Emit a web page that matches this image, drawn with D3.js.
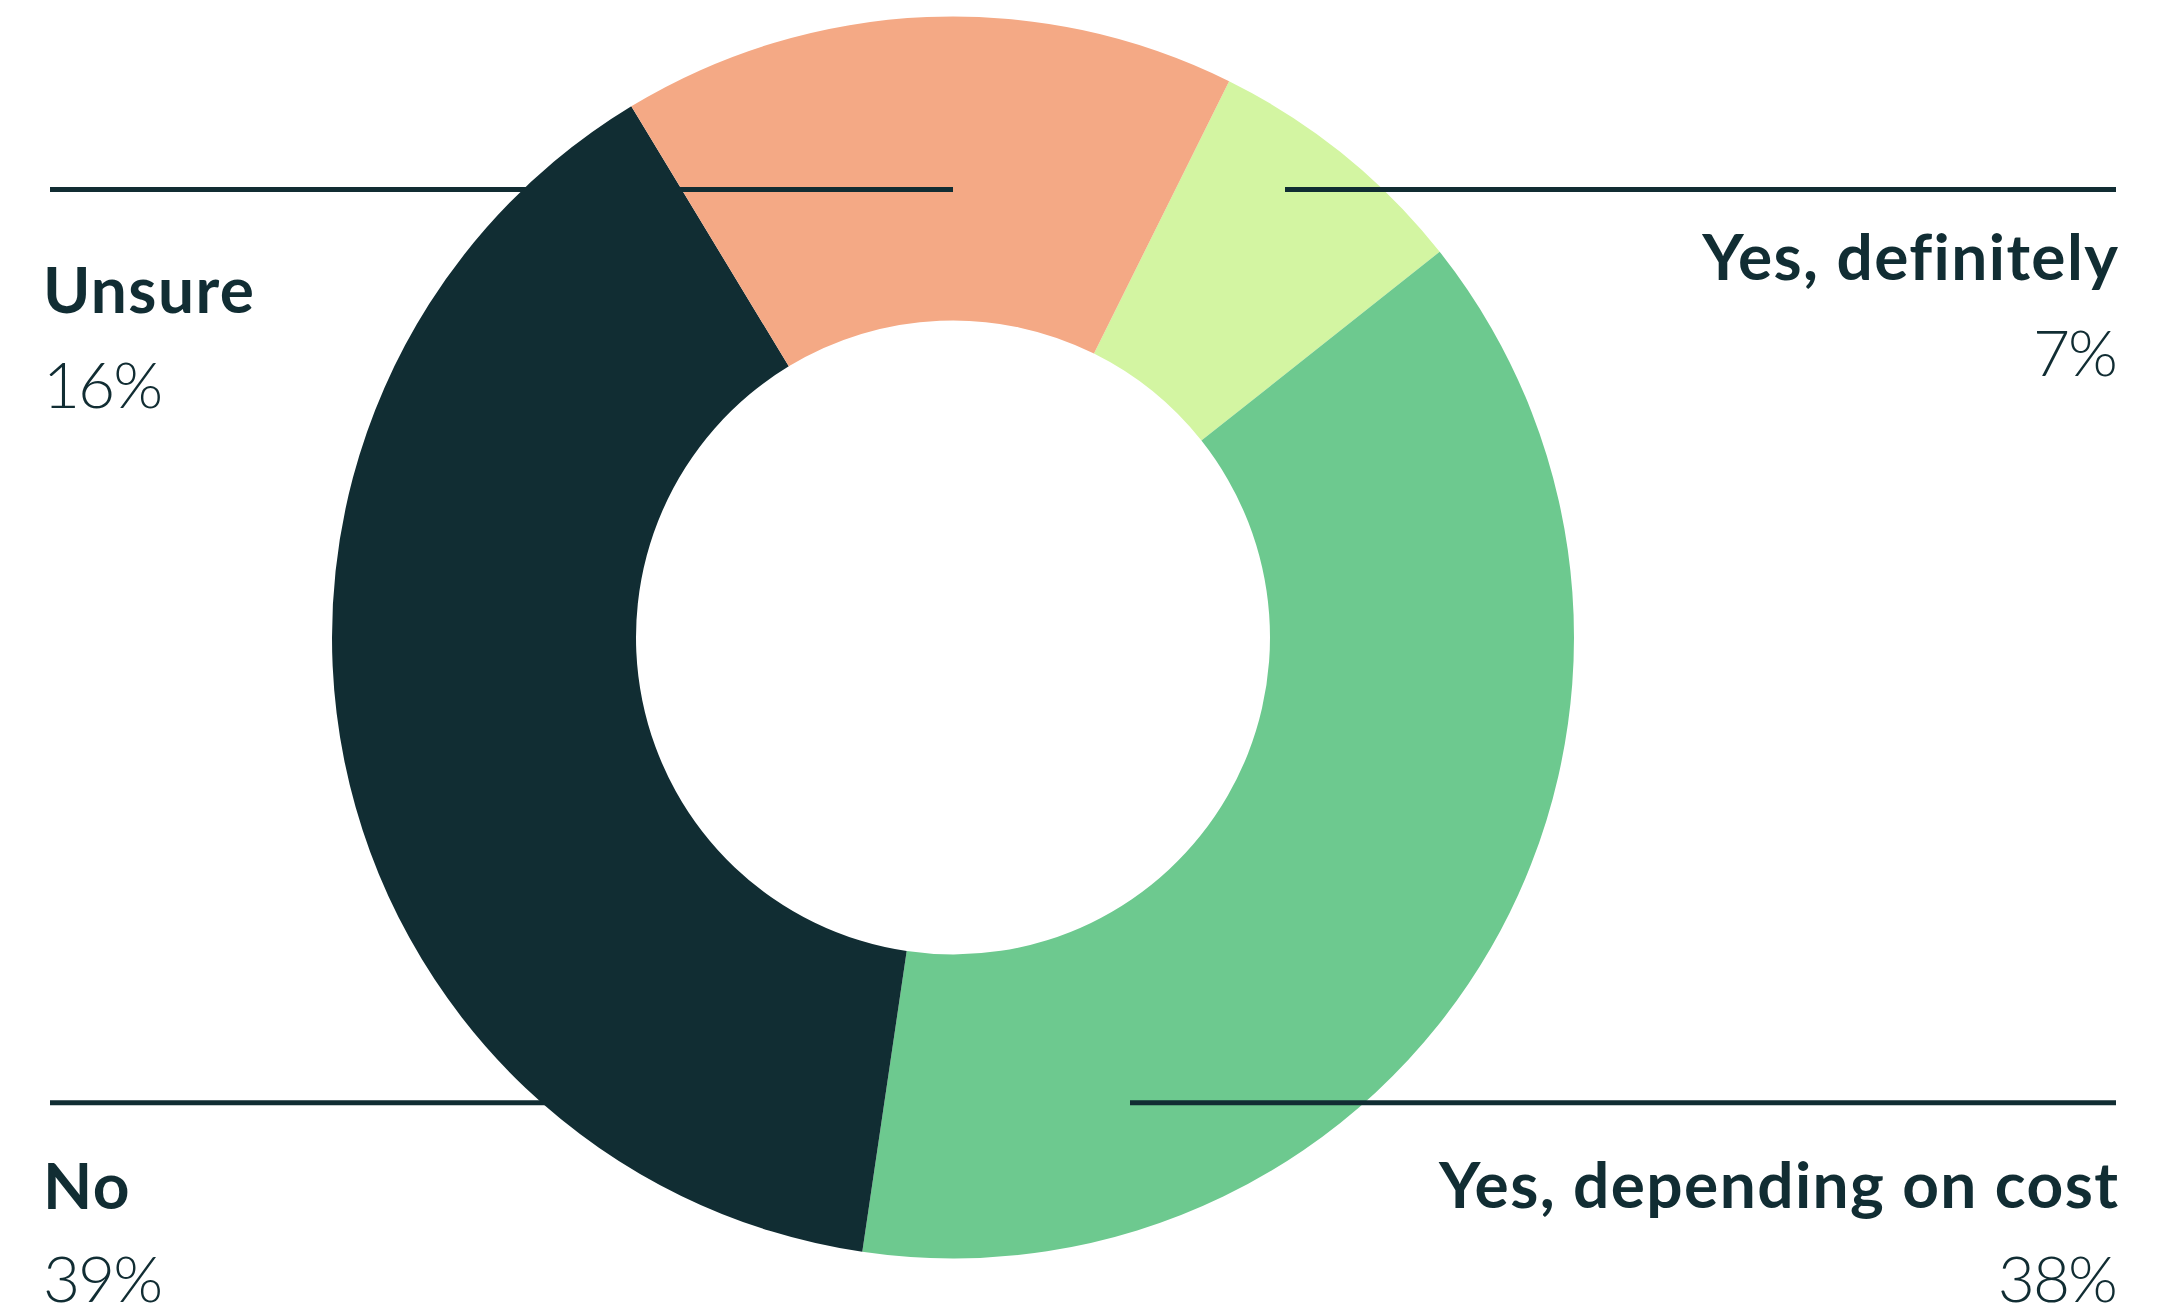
<!DOCTYPE html>
<html>
<head>
<meta charset="utf-8">
<script src="https://cdn.jsdelivr.net/npm/d3@7"></script>
<style>
  html, body { margin: 0; padding: 0; background: #ffffff; }
  svg { display: block; }
  text { font-family: Lato, "Open Sans", sans-serif; fill: #112d33; }
</style>
</head>
<body>
<svg id="chart" width="2173" height="1310"></svg>
<script>
// Survey answers, in the order the slices run clockwise
const categories = ["Yes, definitely", "Yes, depending on cost", "No", "Unsure"];
const values = [7, 38, 39, 16];
const colors = ["#d3f5a2", "#6dc98f", "#112d33", "#f4a985"];
const valueLabels = ["7%", "38%", "39%", "16%"];

const W = 2173, H = 1310;
const cx = 953, cy = 637.5;
const outerR = 621, innerR = 317;
const ink = "#112d33";

const svg = d3.select("#chart");

const pie = d3.pie()
  .sort(null)
  .value(d => d.value)
  .startAngle(26.4 * Math.PI / 180)
  .endAngle(26.4 * Math.PI / 180 + 2 * Math.PI);

const arc = d3.arc().innerRadius(innerR).outerRadius(outerR);

const data = categories.map((c, i) => ({ name: c, value: values[i], color: colors[i], label: valueLabels[i] }));

svg.append("g")
  .attr("transform", `translate(${cx},${cy})`)
  .selectAll("path")
  .data(pie(data))
  .join("path")
  .attr("d", arc)
  .attr("fill", d => d.data.color);

// Leader rules and label blocks, one per quadrant
const layout = {
  "Unsure":                 { x: 43,   anchor: "start", nameY: 313,  pctY: 408,  rule: [50, 953, 189.5] },
  "Yes, definitely":        { x: 2118, anchor: "end",   nameY: 280,  pctY: 376,  rule: [1285, 2116, 189.5] },
  "No":                     { x: 43,   anchor: "start", nameY: 1209, pctY: 1302, rule: [50, 547, 1102.7] },
  "Yes, depending on cost": { x: 2118, anchor: "end",   nameY: 1208, pctY: 1302, rule: [1130, 2116, 1102.7] }
};

const nameSpacing = 1.4, pctSpacing = -2;

const labels = svg.append("g");
data.forEach(d => {
  const L = layout[d.name];
  const end = L.anchor === "end";
  labels.append("line")
    .attr("x1", L.rule[0]).attr("x2", L.rule[1])
    .attr("y1", L.rule[2]).attr("y2", L.rule[2])
    .attr("stroke", ink).attr("stroke-width", 5);
  labels.append("text")
    .attr("x", end ? L.x + nameSpacing : L.x).attr("y", L.nameY)
    .attr("text-anchor", L.anchor)
    .attr("font-size", 64).attr("font-weight", 700)
    .attr("letter-spacing", nameSpacing)
    .text(d.name);
  labels.append("text")
    .attr("x", end ? L.x + pctSpacing : L.x).attr("y", L.pctY)
    .attr("text-anchor", L.anchor)
    .attr("font-size", 64).attr("font-weight", 300)
    .attr("letter-spacing", pctSpacing)
    .text(d.label);
});
</script>
</body>
</html>
